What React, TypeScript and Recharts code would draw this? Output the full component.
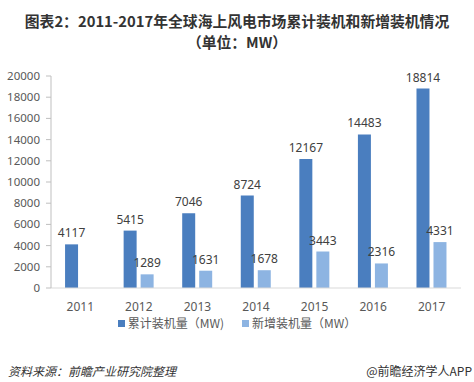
import React from "react";
import { BarChart, Bar, XAxis, YAxis, LabelList } from "recharts";

const years = ["2011", "2012", "2013", "2014", "2015", "2016", "2017"];
const cumulative = [4117, 5415, 7046, 8724, 12167, 14483, 18814];
const added: (number | null)[] = [null, 1289, 1631, 1678, 3443, 2316, 4331];
const yTicks = [0, 2000, 4000, 6000, 8000, 10000, 12000, 14000, 16000, 18000, 20000];
const seriesNames = ["累计装机量（MW)", "新增装机量（MW）"];
const colors = ["#4a7ebf", "#8db4e2"];

const data = years.map((y, i) => ({ year: y, cum: cumulative[i], add: added[i] }));

const font = "'Noto Sans', 'Noto Sans CJK SC', sans-serif";

export default function App() {
  return (
    <div
      style={{
        position: "fixed",
        left: 0,
        top: 0,
        width: 474,
        height: 382,
        background: "#ffffff",
        fontFamily: font,
        overflow: "hidden",
      }}
    >
      <div
        style={{
          position: "absolute",
          top: 10,
          left: 0,
          width: 474,
          textAlign: "center",
          fontWeight: "bold",
          fontSize: 14.8,
          lineHeight: "21px",
          color: "#333333",
          fontFamily: "'Noto Sans CJK SC', sans-serif",
        }}
      >
        <div>图表2：2011-2017年全球海上风电市场累计装机和新增装机情况</div>
        <div>（单位：MW）</div>
      </div>
      <div style={{ position: "absolute", left: 0, top: 0 }}>
        <BarChart
          width={474}
          height={320}
          data={data}
          margin={{ top: 76, right: 13, bottom: 2, left: 0 }}
          barGap={4}
          barCategoryGap="24%"
        >
          <XAxis
            dataKey="year"
            height={30}
            tickLine={false}
            axisLine={{ stroke: "#d9d9d9" }}
            tick={{ fontSize: 12, fill: "#595959", fontFamily: font }}
            tickMargin={8}
          />
          <YAxis
            width={51}
            domain={[0, 20000]}
            ticks={yTicks}
            interval={0}
            tickSize={5}
            tickMargin={6}
            axisLine={{ stroke: "#bfbfbf" }}
            tickLine={{ stroke: "#bfbfbf" }}
            tick={{ fontSize: 11.5, fill: "#595959", fontFamily: font }}
          />
          <Bar dataKey="cum" fill={colors[0]} isAnimationActive={false}>
            <LabelList
              dataKey="cum"
              position="top"
              offset={7}
              style={{ fontSize: 12, fill: "#404040", fontFamily: font }}
            />
          </Bar>
          <Bar dataKey="add" fill={colors[1]} isAnimationActive={false}>
            <LabelList
              dataKey="add"
              position="top"
              offset={7}
              style={{ fontSize: 12, fill: "#404040", fontFamily: font }}
            />
          </Bar>
        </BarChart>
      </div>
      <div
        style={{
          position: "absolute",
          top: 315,
          left: 0,
          width: 474,
          display: "flex",
          justifyContent: "center",
          gap: 18,
          fontSize: 12,
          color: "#595959",
          lineHeight: "16px",
          fontFamily: "'Noto Sans CJK SC', sans-serif",
        }}
      >
        {seriesNames.map((n, i) => (
          <div key={n} style={{ display: "flex", alignItems: "center" }}>
            <span
              style={{
                display: "inline-block",
                width: 7,
                height: 7,
                background: colors[i],
                marginRight: 3,
              }}
            />
            <span>{n}</span>
          </div>
        ))}
      </div>
      <div
        style={{
          position: "absolute",
          top: 363,
          left: 8,
          fontSize: 12,
          fontStyle: "italic",
          color: "#333333",
          fontFamily: "'Noto Sans CJK SC', sans-serif",
          lineHeight: "16px",
        }}
      >
        资料来源：前瞻产业研究院整理
      </div>
      <div
        style={{
          position: "absolute",
          top: 363,
          right: 2,
          fontSize: 12,
          color: "#333333",
          fontFamily: "'Noto Sans CJK SC', sans-serif",
          lineHeight: "16px",
        }}
      >
        @前瞻经济学人APP
      </div>
    </div>
  );
}
